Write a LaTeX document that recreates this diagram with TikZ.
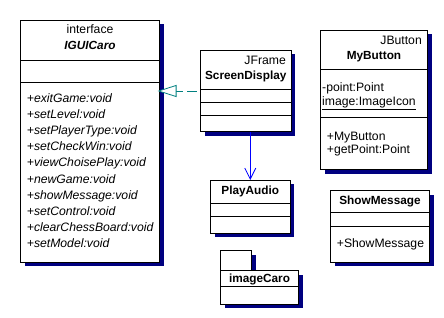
\documentclass[tikz,border=0pt]{standalone}
\usepackage{fontspec}
\setmainfont{Liberation Sans}
\usepackage{xcolor}
\usepackage{tikz}
\usetikzlibrary{arrows.meta,positioning,shadows}

\definecolor{shadowblue}{RGB}{0,0,128}
\definecolor{realteal}{RGB}{0,128,128}
\definecolor{useblue}{RGB}{0,0,255}

\begin{document}
\begin{tikzpicture}[
    x=1pt, y=-1pt,
    font=\fontsize{12.2}{14}\selectfont,
    classbox/.style={rectangle, draw=black, fill=white, line width=0.8pt, inner sep=0pt, outer sep=0pt, anchor=north west,
        drop shadow={shadow xshift=4pt, shadow yshift=-4pt, fill=shadowblue, opacity=1}},
    divider/.style={draw=black, line width=0.8pt},
    txt/.style={inner sep=0pt, anchor=base},
    cname/.style={txt, font=\fontsize{11.8}{14}\selectfont\bfseries},
    member/.style={txt, anchor=base west},
    realize/.style={draw=realteal, line width=0.8pt, dash pattern=on 10pt off 4pt, dash phase=10pt,
        -{Triangle[open, length=19pt, width=12pt, fill=white]}},
    uses/.style={draw=useblue, line width=0.8pt, -{Straight Barb[length=11pt, width=11pt]}}
]
\useasboundingbox (0,0) rectangle (444,318);

% interface IGUICaro
\node[classbox, minimum width=139pt, minimum height=241.5pt] (gui) at (20.5,20.5) {};
\draw[divider] (gui.west |- 0,60) -- (gui.east |- 0,60);
\draw[divider] (gui.west |- 0,82) -- (gui.east |- 0,82);
\node[txt] (guiStereo) at ([shift={(0,12.8)}]gui.north) {interface};
\node[txt, font=\fontsize{11.8}{14}\selectfont\bfseries\itshape] (guiName) at ([shift={(0,28.8)}]gui.north) {IGUICaro};
\foreach \m [count=\i from 0] in {exitGame, setLevel, setPlayerType, setCheckWin, viewChoisePlay,
        newGame, showMessage, setControl, clearChessBoard, setModel}
    \node[member, font=\fontsize{12.2}{14}\selectfont\itshape] (guiOp\i) at ([shift={(6.2,{82.2+16.07*\i})}]gui.north west) {+\m:void};

% ScreenDisplay
\node[classbox, minimum width=90.5pt, minimum height=81pt] (sd) at (200.5,50.5) {};
\draw[divider] (sd.west |- 0,89.5) -- (sd.east |- 0,89.5);
\draw[divider] (sd.west |- 0,102.5) -- (sd.east |- 0,102.5);
\draw[divider] (sd.west |- 0,115.5) -- (sd.east |- 0,115.5);
\node[txt, anchor=base east] (sdStereo) at ([shift={(-5,14.2)}]sd.north east) {JFrame};
\node[cname] (sdName) at ([shift={(0,28.8)}]sd.north) {ScreenDisplay};

% PlayAudio
\node[classbox, minimum width=79.5pt, minimum height=53pt] (pa) at (210.5,180) {};
\draw[divider] (pa.west |- 0,203.5) -- (pa.east |- 0,203.5);
\draw[divider] (pa.west |- 0,216.5) -- (pa.east |- 0,216.5);
\node[cname] (paName) at ([shift={(0,14)}]pa.north) {PlayAudio};

% package imageCaro
\node[classbox, minimum width=31pt, minimum height=20pt] (imgTab) at (220.5,250.5) {};
\node[classbox, minimum width=78pt, minimum height=33.5pt, below=0pt of imgTab.south west, anchor=north west] (imgBody) {};
\draw[divider] (imgBody.west |- 0,286.5) -- (imgBody.east |- 0,286.5);
\node[cname] (imgName) at ([shift={(0,12.2)}]imgBody.north) {imageCaro};

% MyButton
\node[classbox, minimum width=107pt, minimum height=139pt] (mb) at (320.5,30.5) {};
\draw[divider] (mb.west |- 0,69.5) -- (mb.east |- 0,69.5);
\draw[divider] (mb.west |- 0,117.5) -- (mb.east |- 0,117.5);
\node[txt, anchor=base east] (mbStereo) at ([shift={(-5.5,14.2)}]mb.north east) {JButton};
\node[cname] (mbName) at ([shift={(0,28.8)}]mb.north) {MyButton};
\node[member] (mbAttrA) at ([shift={(1.5,60.8)}]mb.north west) {-point:Point};
\node[member] (mbAttrB) at ([shift={(1.5,74.8)}]mb.north west) {\underline{image:ImageIcon}};
\node[member] (mbOpA) at ([shift={(6.2,109.5)}]mb.north west) {+MyButton};
\node[member] (mbOpB) at ([shift={(6.2,122.8)}]mb.north west) {+getPoint:Point};

% ShowMessage
\node[classbox, minimum width=99pt, minimum height=71.5pt] (sm) at (330.5,190.5) {};
\draw[divider] (sm.west |- 0,212.5) -- (sm.east |- 0,212.5);
\draw[divider] (sm.west |- 0,226) -- (sm.east |- 0,226);
\node[cname] (smName) at ([shift={(0,14.2)}]sm.north) {ShowMessage};
\node[member] (smOp) at ([shift={(6.2,56.8)}]sm.north west) {+ShowMessage};

% relations
\draw[realize, shorten >=-2pt] (sd.west) -- (sd.west -| gui.east);
\draw[uses] (sd.south -| pa.north) -- (pa.north);
\end{tikzpicture}
\end{document}
